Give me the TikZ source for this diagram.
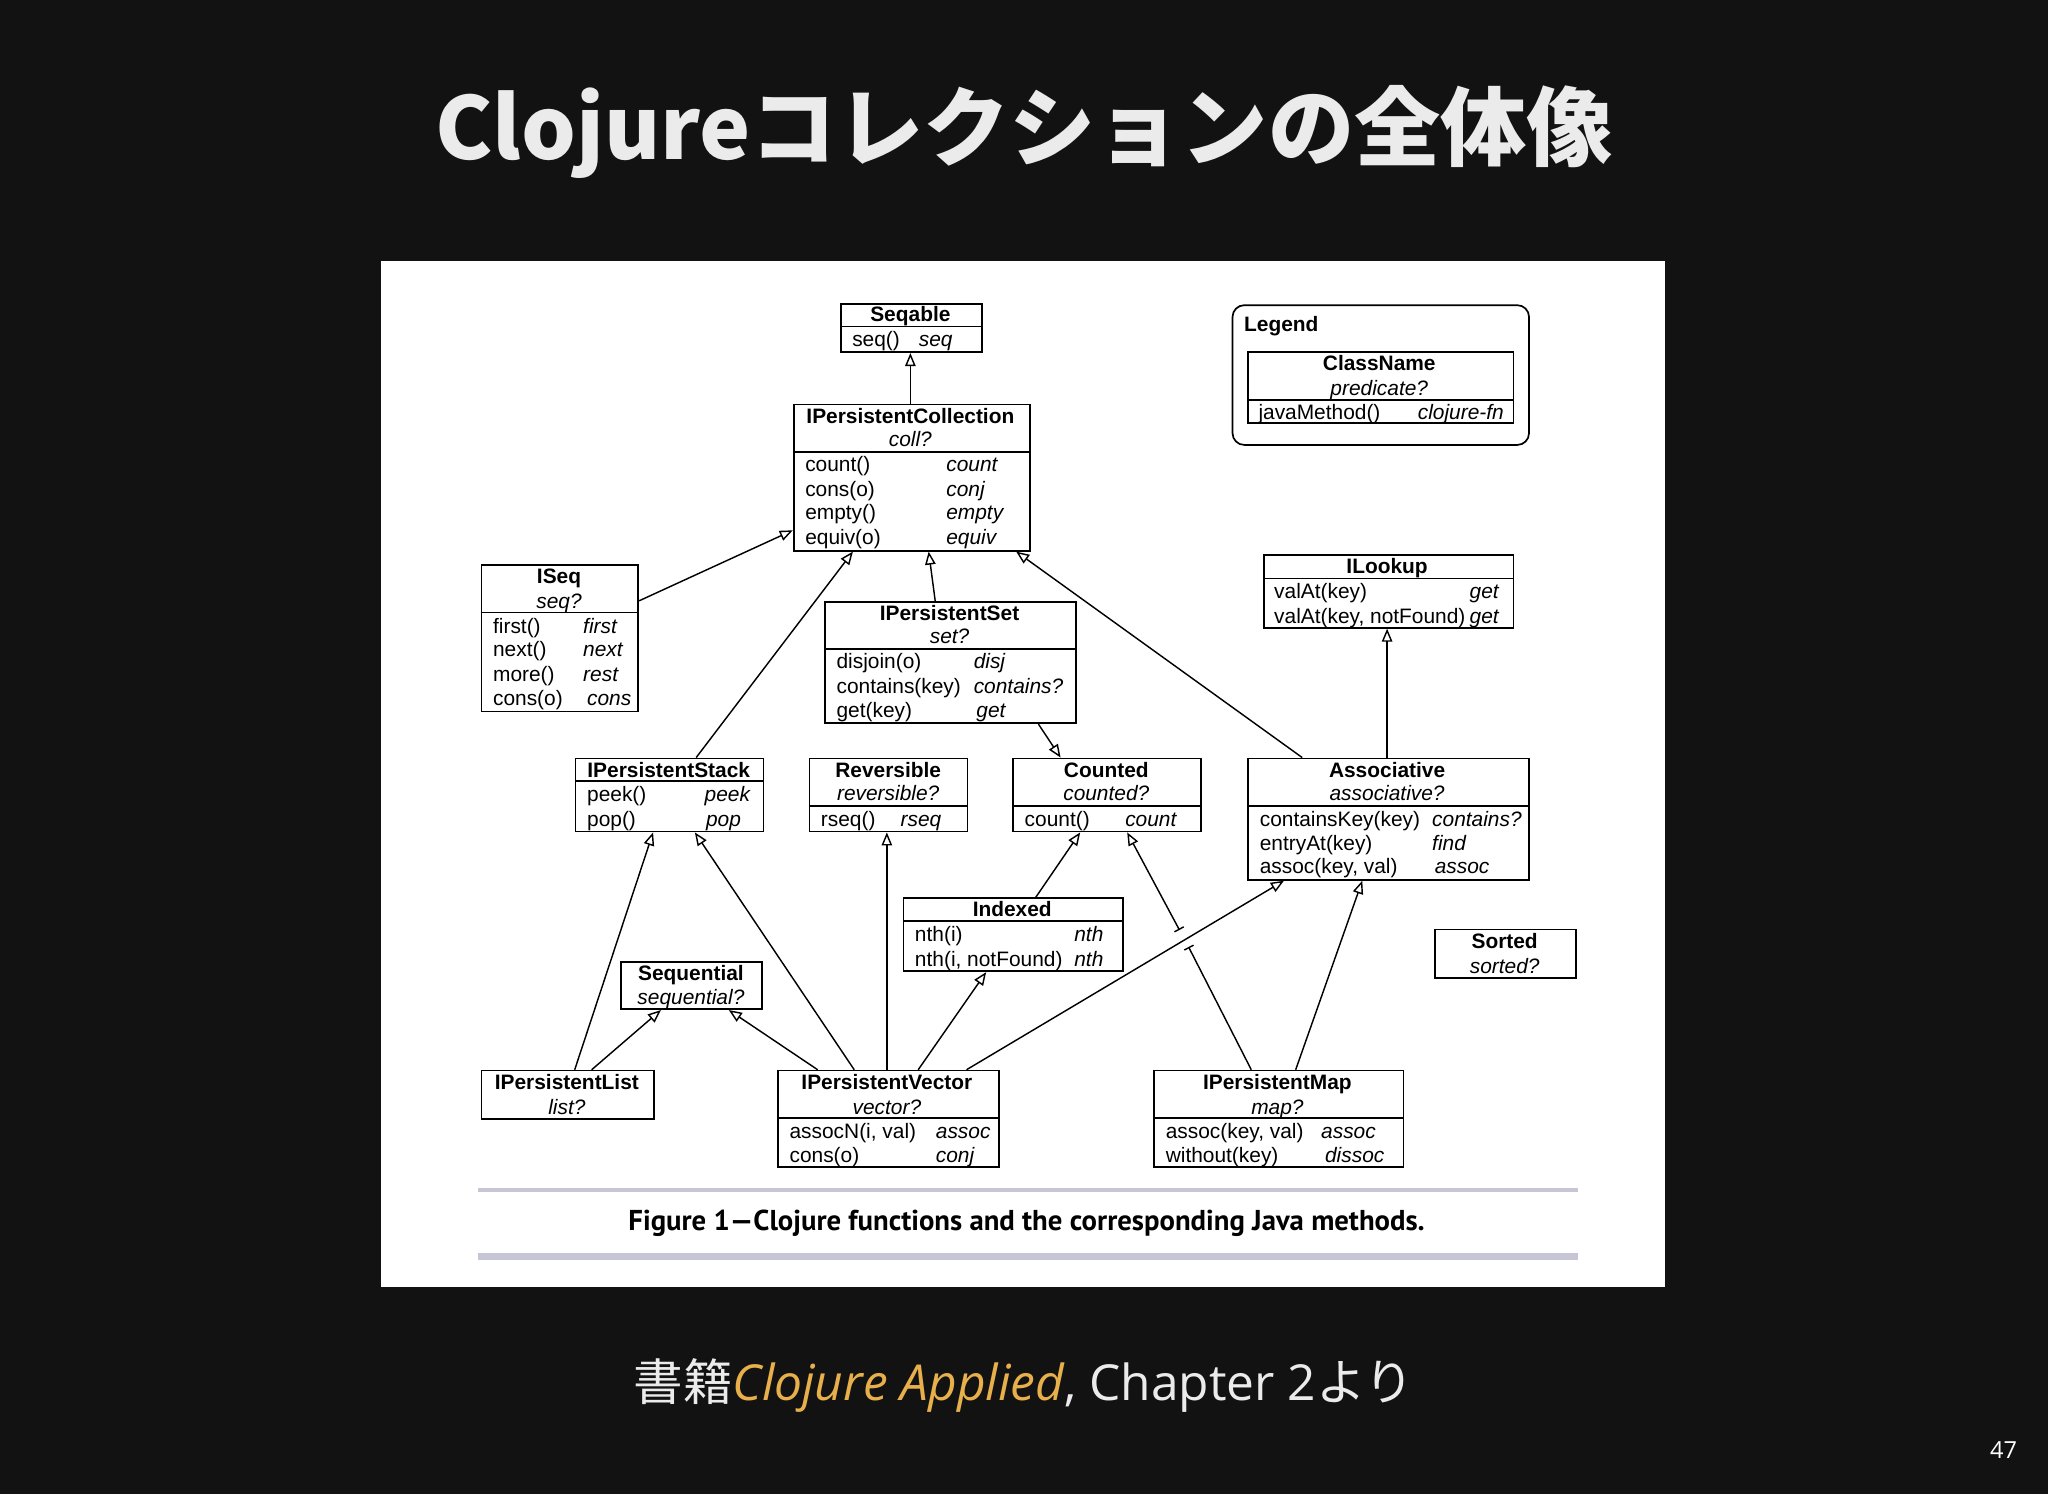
\documentclass[tikz,border=0pt]{standalone}
\usepackage{fontspec}
\setmainfont{Liberation Sans}
\newfontfamily\cjk{Noto Sans CJK JP}
\newfontfamily\osans{Open Sans}
\newfontfamily\capf{PT Sans}
\usetikzlibrary{arrows.meta}
\definecolor{bg}{HTML}{121212}
\definecolor{rule}{HTML}{C6C6D6}
\definecolor{org}{HTML}{E8B04A}
\tikzset{
  box/.style={draw,line width=1.3pt,inner sep=0pt},
  inh/.style={line width=1.1pt,-{Triangle[open,length=10pt,width=8pt]}},
  bt/.style={font=\fontsize{16}{18}\selectfont\bfseries,anchor=base},
  it/.style={font=\fontsize{16}{18}\selectfont\itshape,anchor=base},
  lt/.style={font=\fontsize{16}{18}\selectfont,anchor=base west},
  rt/.style={font=\fontsize{16}{18}\selectfont\itshape,anchor=base west},
}
\newcommand\ubox[5]{\node[box,anchor=north west,minimum width={(#4-#2)*1pt},minimum height={(#5-#3)*1pt}] (#1) at (#2,#3) {};}
\newcommand\divl[2]{\draw[line width=1.3pt] (#1.west |- 0,#2) -- (#1.east |- 0,#2);}
\newcommand\ctr[4]{\node[#4] at (#1,#2) {#3};}
\begin{document}
\begin{tikzpicture}[x=1pt,y=-1pt]
\fill[bg] (0,0) rectangle (1568,1144);
\useasboundingbox (0,0) rectangle (1568,1144);
\node[font=\fontsize{66}{70}\selectfont\cjk\bfseries,text=white!92!black,anchor=base] (title) at (784,122) {Clojureコレクションの全体像};
\fill[white] (292,200) rectangle (1275,985);
% Seqable
\ubox{seqable}{643}{232}{751}{269}\divl{seqable}{250}
\ctr{697}{246}{Seqable}{bt}
\ctr{649}{265}{seq()}{lt}\ctr{700}{265}{seq}{rt}
% IPersistentCollection
\ubox{pc}{607}{309}{788}{421}\divl{pc}{346}
\ctr{697}{324}{IPersistentCollection}{bt}\ctr{697}{342}{coll?}{it}
\ctr{613}{361}{count()}{lt}\ctr{721}{361}{count}{rt}
\ctr{613}{380}{cons(o)}{lt}\ctr{721}{380}{conj}{rt}
\ctr{613}{398}{empty()}{lt}\ctr{721}{398}{empty}{rt}
\ctr{613}{417}{equiv(o)}{lt}\ctr{721}{417}{equiv}{rt}
% ISeq
\ubox{iseq}{368}{432}{488}{544}\divl{iseq}{469}
\ctr{428}{447}{ISeq}{bt}\ctr{428}{466}{seq?}{it}
\ctr{374}{485}{first()}{lt}\ctr{443}{485}{first}{rt}
\ctr{374}{503}{next()}{lt}\ctr{443}{503}{next}{rt}
\ctr{374}{522}{more()}{lt}\ctr{443}{522}{rest}{rt}
\ctr{374}{540}{cons(o)}{lt}\ctr{446}{540}{cons}{rt}
% IPersistentSet
\ubox{pset}{631}{460}{823}{553}\divl{pset}{497}
\ctr{727}{475}{IPersistentSet}{bt}\ctr{727}{493}{set?}{it}
\ctr{637}{512}{disjoin(o)}{lt}\ctr{742}{512}{disj}{rt}
\ctr{637}{531}{contains(key)}{lt}\ctr{742}{531}{contains?}{rt}
\ctr{637}{549}{get(key)}{lt}\ctr{744}{549}{get}{rt}
% ILookup
\ubox{lookup}{967}{424}{1158}{480}\divl{lookup}{443}
\ctr{1062}{439}{ILookup}{bt}
\ctr{972}{458}{valAt(key)}{lt}\node[rt,anchor=base east] at (1151,458) {get};
\ctr{972}{477}{valAt(key, notFound)}{lt}\node[rt,anchor=base east] at (1151,477) {get};
% Legend
\node[draw,line width=1.3pt,rounded corners=9pt,anchor=north west,minimum width=227pt,minimum height=107pt] (legend) at (943,233) {};
\node[bt,anchor=base west] at (949,254) {Legend};
\ubox{lbox}{955}{269}{1158}{323}\divl{lbox}{306}
\ctr{1056}{284}{ClassName}{bt}\ctr{1056}{303}{predicate?}{it}
\ctr{960}{321}{javaMethod()}{lt}\ctr{1082}{321}{clojure-fn}{rt}
% IPersistentStack
\ubox{pstack}{440}{580}{584}{636}\divl{pstack}{598}
\ctr{512}{595}{IPersistentStack}{bt}
\ctr{446}{614}{peek()}{lt}\ctr{536}{614}{peek}{rt}
\ctr{446}{633}{pop()}{lt}\ctr{537}{633}{pop}{rt}
% Reversible
\ubox{rev}{619}{580}{740}{636}\divl{rev}{617}
\ctr{680}{595}{Reversible}{bt}\ctr{680}{613}{reversible?}{it}
\ctr{625}{633}{rseq()}{lt}\ctr{686}{633}{rseq}{rt}
% Counted
\ubox{counted}{775}{580}{919}{636}\divl{counted}{617}
\ctr{847}{595}{Counted}{bt}\ctr{847}{613}{counted?}{it}
\ctr{781}{633}{count()}{lt}\ctr{858}{633}{count}{rt}
% Associative
\ubox{assoc}{955}{580}{1170}{673}\divl{assoc}{617}
\ctr{1062}{595}{Associative}{bt}\ctr{1062}{613}{associative?}{it}
\ctr{961}{633}{containsKey(key)}{lt}\ctr{1093}{633}{contains?}{rt}
\ctr{961}{651}{entryAt(key)}{lt}\ctr{1093}{651}{find}{rt}
\ctr{961}{669}{assoc(key, val)}{lt}\ctr{1095}{669}{assoc}{rt}
% Indexed
\ubox{indexed}{691}{687}{859}{743}\divl{indexed}{705}
\ctr{775}{702}{Indexed}{bt}
\ctr{697}{721}{nth(i)}{lt}\ctr{819}{721}{nth}{rt}
\ctr{697}{740}{nth(i, notFound)}{lt}\ctr{819}{740}{nth}{rt}
% Sorted
\ubox{sorted}{1098}{711}{1206}{748}
\ctr{1152}{726}{Sorted}{bt}\ctr{1152}{745}{sorted?}{it}
% Sequential
\ubox{sequential}{475}{736}{583}{772}
\ctr{529}{751}{Sequential}{bt}\ctr{529}{769}{sequential?}{it}
% IPersistentList
\ubox{plist}{368}{819}{500}{856}
\ctr{434}{834}{IPersistentList}{bt}\ctr{434}{853}{list?}{it}
% IPersistentVector
\ubox{pvec}{595}{819}{764}{893}\divl{pvec}{856}
\ctr{679}{834}{IPersistentVector}{bt}\ctr{679}{853}{vector?}{it}
\ctr{601}{872}{assocN(i, val)}{lt}\ctr{713}{872}{assoc}{rt}
\ctr{601}{890}{cons(o)}{lt}\ctr{713}{890}{conj}{rt}
% IPersistentMap
\ubox{pmap}{883}{819}{1074}{893}\divl{pmap}{856}
\ctr{978}{834}{IPersistentMap}{bt}\ctr{978}{853}{map?}{it}
\ctr{889}{872}{assoc(key, val)}{lt}\ctr{1008}{872}{assoc}{rt}
\ctr{889}{890}{without(key)}{lt}\ctr{1011}{890}{dissoc}{rt}
% connectors
\draw[inh] (pc.north -| 697,0) -- (seqable.south -| 697,0);
\draw[inh] (iseq.east |- 0,460) -- (pc.west |- 0,406);
\draw[inh] (pstack.north -| 533,0) -- (pc.south -| 653,0);
\draw[inh] (pset.north -| 716,0) -- (pc.south -| 711,0);
\draw[inh] (assoc.north -| 997,0) -- (pc.south -| 778,0);
\draw[inh] (pset.south -| 795,0) -- (counted.north -| 812,0);
\draw[inh] (assoc.north -| 1062,0) -- (lookup.south -| 1062,0);
\draw[inh] (indexed.north -| 793,0) -- (counted.south -| 827,0);
\draw[inh] (plist.north -| 440,0) -- (pstack.south -| 500,0);
\draw[inh] (plist.north -| 453,0) -- (sequential.south -| 506,0);
\draw[inh] (pvec.north -| 654,0) -- (pstack.south -| 532,0);
\draw[inh] (pvec.north -| 626,0) -- (sequential.south -| 558,0);
\draw[inh] (pvec.north -| 679,0) -- (rev.south -| 679,0);
\draw[inh] (pvec.north -| 703,0) -- (indexed.south -| 755,0);
\draw[inh] (pvec.north -| 740,0) -- (assoc.south -| 983,0);
\coordinate (gapA) at (903,712);
\coordinate (gapB) at (910,725);
\draw[line width=1.1pt,{Bar[width=8pt]}-] (gapB) -- (pmap.north -| 958,0);
\draw[inh,{Bar[width=8pt]}-{Triangle[open,length=10pt,width=8pt]}] (gapA) -- (counted.south -| 863,0);
\draw[inh] (pmap.north -| 992,0) -- (assoc.south -| 1043,0);
% caption
\draw[rule,line width=3pt] (366,911) -- (1208,911);
\draw[rule,line width=6pt] (366,962) -- (1208,962);
\node[font=\fontsize{22}{24}\selectfont\capf\bfseries,anchor=base] (cap) at (786,942) {Figure 1—Clojure functions and the corresponding Java methods.};
% footer
\node[font=\fontsize{38}{40}\selectfont,text=white!92!black,anchor=base] (foot) at (784,1072) {{\cjk 書籍}{\osans\itshape\color{org}Clojure Applied}{\osans , Chapter 2}{\cjk より}};
\node[font=\fontsize{18}{20}\selectfont\osans,text=white,anchor=base] (pg) at (1534,1117) {47};
\end{tikzpicture}
\end{document}
